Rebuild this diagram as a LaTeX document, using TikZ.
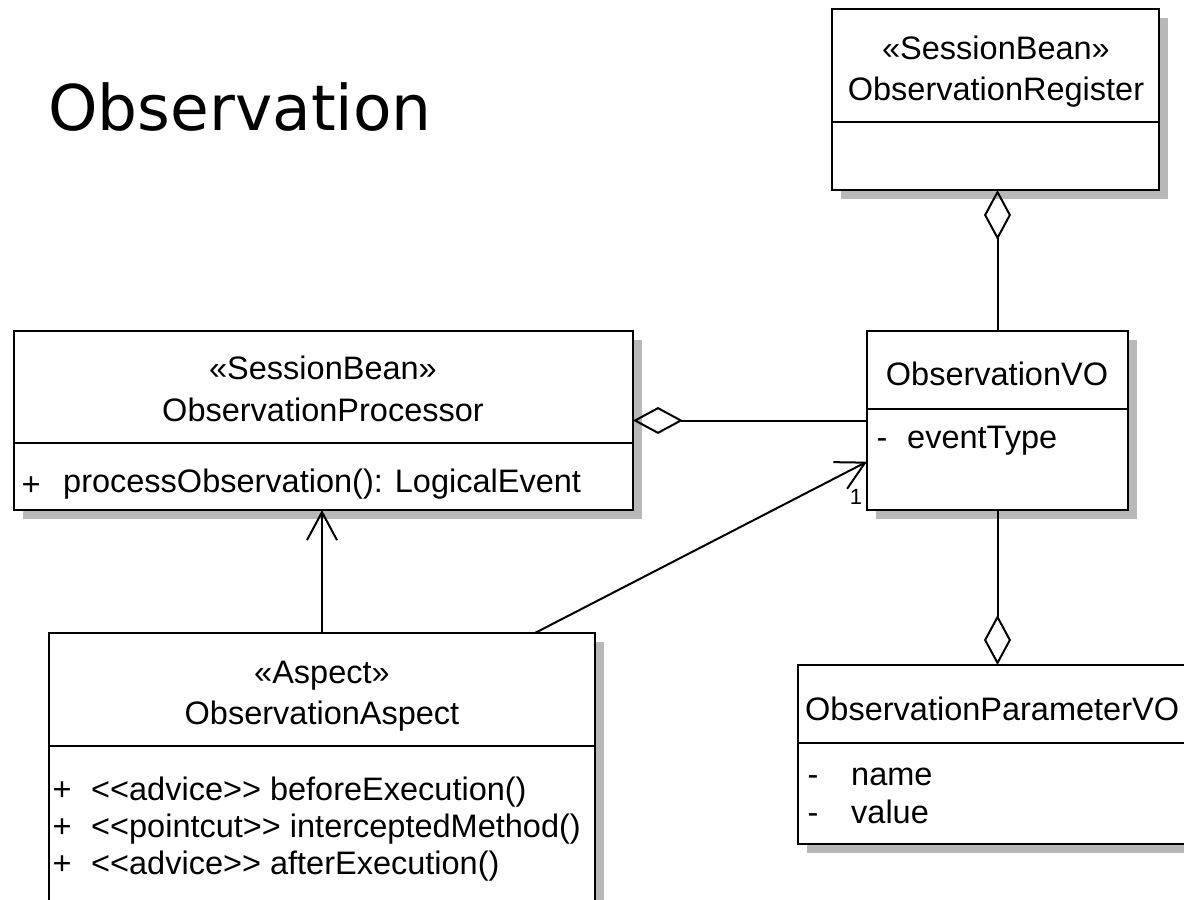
\documentclass[tikz,border=0pt]{standalone}
\usepackage{fontspec}
\setmainfont{Liberation Sans}
\newfontfamily\bxfamily{Liberation Sans}
\newfontfamily\ttlfamily{DejaVu Sans}
\newcommand\bxfont{\bxfamily\fontsize{32.5}{38}\selectfont}
\usetikzlibrary{arrows.meta,calc,shadows}
\begin{document}
\begin{tikzpicture}[x=1pt,y=-1pt,
  cls/.style={rectangle, draw=black, line width=2.4pt, fill=white, inner sep=0pt, outer sep=0pt,
    drop shadow={shadow xshift=9pt, shadow yshift=-9pt, fill=black!28, opacity=1}},
  sep/.style={draw=black, line width=2.4pt},
  txt/.style={font=\bxfont, inner sep=0pt, text=black},
  conn/.style={draw=black, line width=2pt},
  agg/.style={conn, -{Diamond[open, length=50pt, width=27pt]}},
  nav/.style={conn, -{Straight Barb[length=28pt, width=30pt]}}
]
\useasboundingbox (0,0) rectangle (1184,900);
\fill[white] (0,0) rectangle (1184,900);
\clip (0,0) rectangle (1184,900);

% title
\node[font=\ttlfamily\fontsize{63}{70}\selectfont, inner sep=0pt, anchor=base west] (title) at (48,130) {Observation};

% class boxes
\node[cls, minimum width=327pt, minimum height=181pt] (reg) at (995.5,99.5) {};
\node[cls, minimum width=619pt, minimum height=179pt] (proc) at (323.5,420.5) {};
\node[cls, minimum width=261pt, minimum height=179pt] (vo) at (997.5,420.5) {};
\node[cls, minimum width=546pt, minimum height=297pt] (aspect) at (322,781.5) {};
\node[cls, minimum width=422pt, minimum height=179pt] (param) at (1009,754.5) {};

% compartments
\draw[sep] (832,122) -- (1159,122);
\draw[sep] (14,443) -- (633,443);
\draw[sep] (867,409) -- (1128,409);
\draw[sep] (49,746) -- (595,746);
\draw[sep] (798,743) -- (1220,743);

% register texts
\node[txt, anchor=base] (regst) at (996,59) {«SessionBean»};
\node[txt, anchor=base] (regnm) at (996,100) {ObservationRegister};

% processor texts
\node[txt, anchor=base] (procst) at (323,379) {«SessionBean»};
\node[txt, anchor=base] (procnm) at (323,421) {ObservationProcessor};
\node[txt, anchor=base] (procpl) at (31,495) {+};
\node[txt, anchor=base west] (procop) at (63,492) {processObservation(): LogicalEvent};

% VO texts
\node[txt, anchor=base] (vonm) at (997,385) {ObservationVO};
\node[txt, anchor=base] (vomi) at (882,448) {-};
\node[txt, anchor=base west] (voat) at (907,448) {eventType};

% aspect texts
\node[txt, anchor=base] (aspst) at (322,683) {«Aspect»};
\node[txt, anchor=base] (aspnm) at (322,724) {ObservationAspect};
\node[txt, anchor=base] (asp1p) at (62,800) {+};
\node[txt, anchor=base west] (asp1) at (91,800) {<{}<advice>{}> beforeExecution()};
\node[txt, anchor=base] (asp2p) at (62,837) {+};
\node[txt, anchor=base west] (asp2) at (91,837) {<{}<pointcut>{}> interceptedMethod()};
\node[txt, anchor=base] (asp3p) at (62,874) {+};
\node[txt, anchor=base west] (asp3) at (91,874) {<{}<advice>{}> afterExecution()};

% parameter texts
\node[txt, anchor=base west] (parnm) at (805,720) {ObservationParameterVO};
\node[txt, anchor=base] (par1m) at (813,785) {-};
\node[txt, anchor=base west] (par1) at (851,785) {name};
\node[txt, anchor=base] (par2m) at (813,823) {-};
\node[txt, anchor=base west] (par2) at (851,823) {value};

% connectors
\draw[agg] (vo.north) -- (vo.north |- reg.south);
\draw[agg] (vo.west) -- (proc.east);
\draw[agg] (vo.south) -- (vo.south |- param.north);
\draw[nav] (aspect.north) -- (aspect.north |- proc.south);
\coordinate (aspstart) at ($(aspect.north west)!0.89!(aspect.north east)$);
\coordinate (votip) at ($(vo.north west)!0.73!(vo.south west)$);
\draw[nav] (aspstart) -- (votip);
\node[font=\bxfamily\fontsize{22}{24}\selectfont, inner sep=0pt, anchor=base] (one) at (856,504) {1};
\end{tikzpicture}
\end{document}
